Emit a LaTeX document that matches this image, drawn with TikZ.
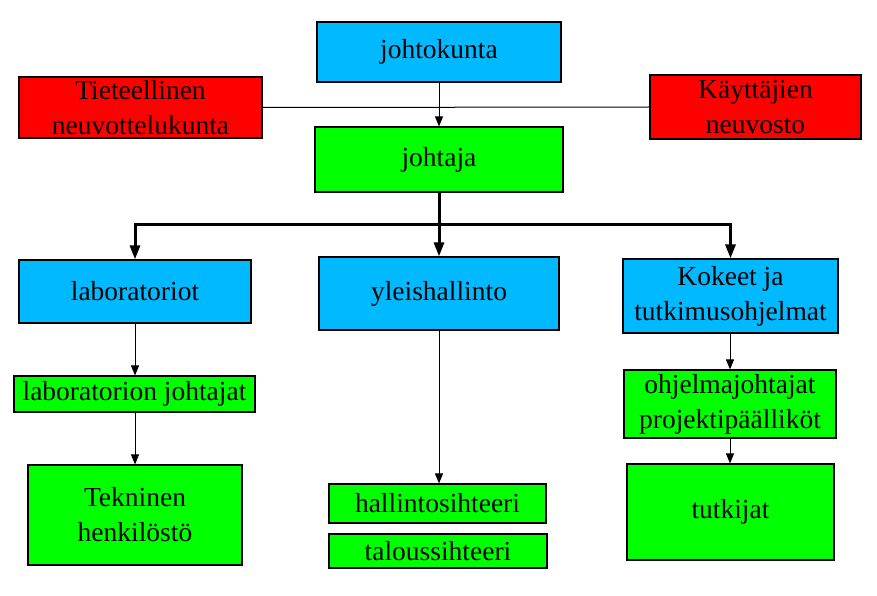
\documentclass[tikz,border=0pt]{standalone}
\usepackage{fontspec}
\setmainfont{Liberation Serif}
\usetikzlibrary{arrows.meta}
\definecolor{boxblue}{RGB}{0,185,255}
\definecolor{boxred}{RGB}{255,0,0}
\definecolor{boxgreen}{RGB}{0,255,0}
\tikzset{
  box/.style={draw=black, line width=1.2pt, inner sep=0pt, align=center,
    font=\fontsize{27.5}{35}\selectfont},
  bl/.style={box, fill=boxblue},
  rd/.style={box, fill=boxred},
  gr/.style={box, fill=boxgreen},
  thinarrow/.style={line width=1pt, -{Triangle[width=8pt,length=10pt]}},
  thickline/.style={line width=3pt},
  thickarrow/.style={line width=3pt, -{Triangle[width=10pt,length=14pt]}},
}
\begin{document}
\begin{tikzpicture}[x=1pt,y=-1pt]
\useasboundingbox (0,0) rectangle (877,596);
\node[bl, minimum width=244pt, minimum height=60pt] (jk) at (439,52) {johtokunta};
\node[rd, minimum width=243pt, minimum height=61pt] (tiet) at (140.5,107.5) {Tieteellinen\\neuvottelukunta};
\node[rd, minimum width=211pt, minimum height=64pt] (kayt) at (755.5,107) {Käyttäjien\\neuvosto};
\node[gr, minimum width=248pt, minimum height=65pt] (joht) at (439,159.5) {johtaja};
\node[bl, minimum width=232pt, minimum height=63pt] (lab) at (135,291.5) {laboratoriot};
\node[bl, minimum width=240pt, minimum height=73pt] (yleis) at (439,293.5) {yleishallinto};
\node[bl, minimum width=215pt, minimum height=74pt] (kok) at (730.5,296) {Kokeet ja\\tutkimusohjelmat};
\node[gr, minimum width=241pt, minimum height=36pt] (labj) at (134.5,394) {laboratorion johtajat};
\node[gr, minimum width=214pt, minimum height=100pt] (tekn) at (135,515) {Tekninen\\henkilöstö};
\node[gr, minimum width=217pt, minimum height=39pt] (hall) at (437.5,503.5) {hallintosihteeri};
\node[gr, minimum width=218pt, minimum height=34pt] (talo) at (438,551) {taloussihteeri};
\node[gr, minimum width=212pt, minimum height=68pt] (ohj) at (730,404) {ohjelmajohtajat\\projektipäälliköt};
\node[gr, minimum width=207pt, minimum height=96pt] (tutk) at (730.5,512) {tutkijat};
\coordinate (fork) at (439,224);
% connectors
\draw[line width=1pt] (tiet.east) -- (kayt.west);
\draw[thinarrow] (jk.south) -- (joht.north);
\draw[thickline] (joht.south) -- (fork);
\draw[thickarrow] (fork) -| (lab.north);
\draw[thickarrow] (fork) -- (yleis.north);
\draw[thickarrow] (fork) -| (kok.north);
\draw[thinarrow] (lab.south) -- (lab.south |- labj.north);
\draw[thinarrow] (labj.south -| lab.south) -- (lab.south |- tekn.north);
\draw[thinarrow] (yleis.south) -- (yleis.south |- hall.north);
\draw[thinarrow] (kok.south -| ohj.north) -- (ohj.north);
\draw[thinarrow] (ohj.south) -- (ohj.south |- tutk.north);
\end{tikzpicture}
\end{document}
